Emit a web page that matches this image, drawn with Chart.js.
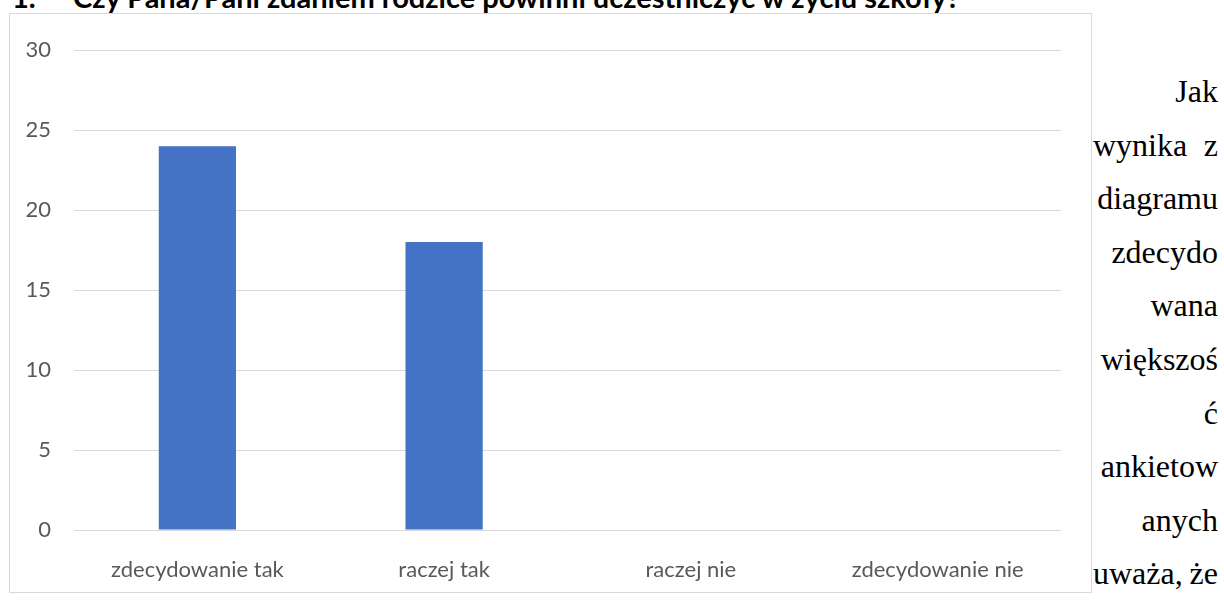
<!DOCTYPE html>
<html>
<head>
<meta charset="utf-8">
<script src="https://cdn.jsdelivr.net/npm/chart.js@4.4.1/dist/chart.umd.min.js"></script>
<style>
  html, body { margin: 0; padding: 0; background: #fff; }
  body { width: 1224px; height: 601px; position: relative; overflow: hidden; }
  .head { position: absolute; top: -21px; font: bold 29px Lato, sans-serif; color: #000; white-space: nowrap; }
  #box { position: absolute; left: 9px; top: 13px; width: 1081px; height: 578px; border: 1px solid #d9d9d9; }
  #box canvas { display: block; }
  .side { position: absolute; left: 1093px; width: 125px; font: 32px "Liberation Serif", "Times New Roman", serif; color: #000; white-space: nowrap; line-height: 1; }
  .side.r { text-align: right; }
  .side.j { display: flex; justify-content: space-between; }
</style>
</head>
<body>
<div class="head" style="left:12px">1.</div>
<div class="head" style="left:73px">Czy Pana/Pani zdaniem rodzice powinni uczestniczyć w życiu szkoły?</div>
<div id="box"><canvas id="c" width="1081" height="578"></canvas></div>
<div id="side"></div>
<script>
/* ── dane wykresu ── */
const categories = ['zdecydowanie tak', 'raczej tak', 'raczej nie', 'zdecydowanie nie'];
const answers    = [24, 18, 0, 0];
const yTicks     = [0, 5, 10, 15, 20, 25, 30];

/* tekst obok wykresu (wiersze jak w dokumencie) */
const sideLines = ['Jak', 'wynika z', 'diagramu', 'zdecydo', 'wana', 'większoś', 'ć', 'ankietow', 'anych', 'uważa, że'];

const side = document.getElementById('side');
sideLines.forEach((t, i) => {
  const d = document.createElement('div');
  const words = t.split(' ');
  d.className = 'side ' + (words.length > 1 ? 'j' : 'r');
  d.style.top = (75 + i * 53.6) + 'px';
  if (words.length > 1) words.forEach(w => { const s = document.createElement('span'); s.textContent = w; d.appendChild(s); });
  else d.textContent = t;
  side.appendChild(d);
});

const tickFont = { family: 'Lato, sans-serif', size: 22 };

new Chart(document.getElementById('c').getContext('2d'), {
  type: 'bar',
  data: {
    labels: categories,
    datasets: [{
      data: answers,
      backgroundColor: '#4472c4',
      borderWidth: 0,
      barPercentage: 0.313,
      categoryPercentage: 1
    }]
  },
  options: {
    responsive: false, animation: false,
    layout: { padding: { top: 29, right: 30, bottom: 0, left: 0 } },
    plugins: { legend: { display: false }, tooltip: { enabled: false } },
    scales: {
      x: {
        grid: { display: false },
        border: { display: false },
        ticks: { color: '#595959', font: tickFont, padding: 19, maxRotation: 0 },
        afterFit: s => { s.height = 62; }
      },
      y: {
        min: 0, max: 30,
        afterBuildTicks: s => { s.ticks = yTicks.map(v => ({ value: v })); },
        grid: { color: '#d9d9d9', lineWidth: 1, drawTicks: false },
        border: { display: false },
        ticks: { color: '#595959', font: tickFont, padding: 23 },
        afterFit: s => { s.width = 64; }
      }
    }
  }
});
</script>
</body>
</html>
